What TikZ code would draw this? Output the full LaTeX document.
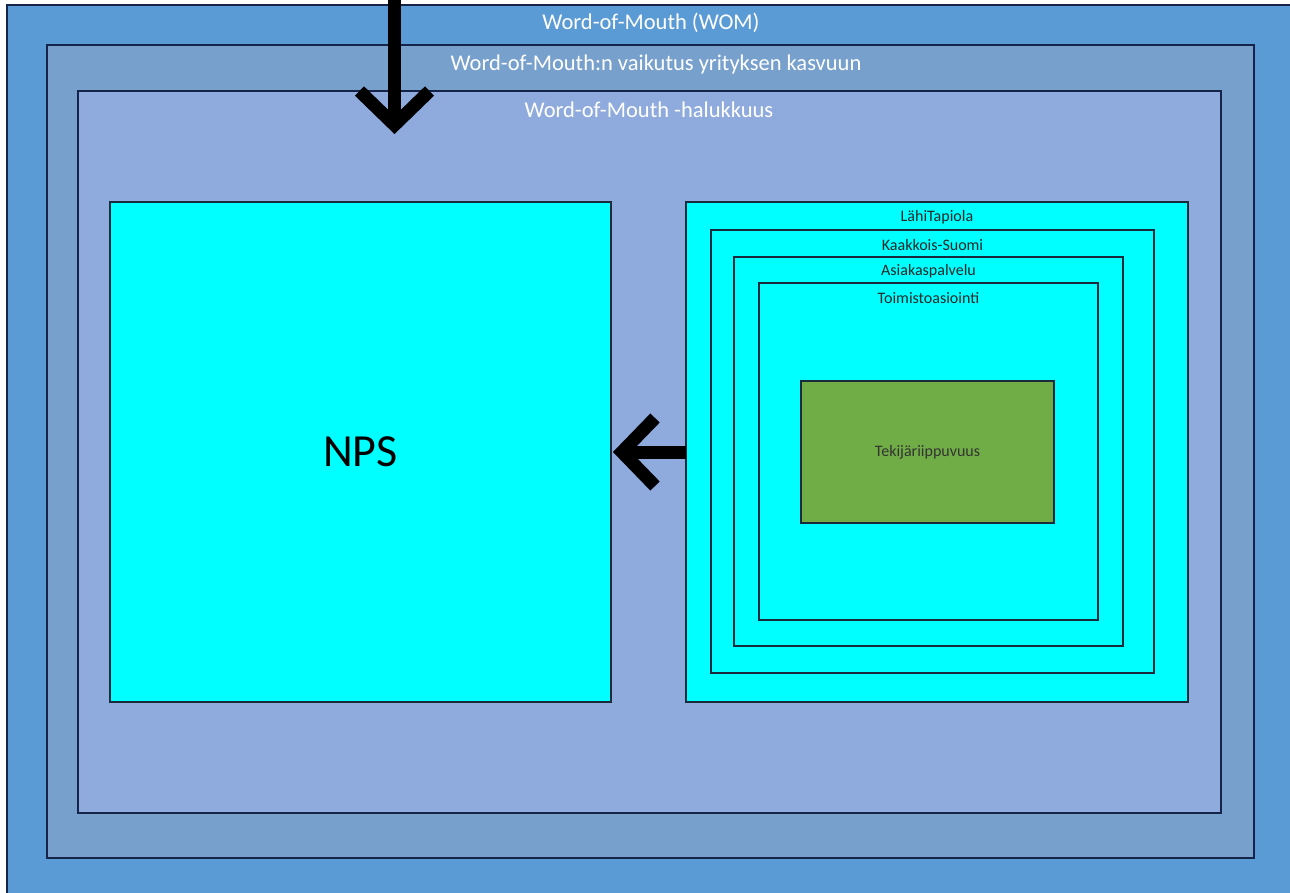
\documentclass[tikz,border=0pt]{standalone}
\usepackage{fontspec}
\setmainfont{Carlito}
\usetikzlibrary{calc}
\definecolor{womblue}{HTML}{5B9BD5}
\definecolor{growblue}{HTML}{77A0CC}
\definecolor{willblue}{HTML}{8FAADC}
\definecolor{aqua}{HTML}{00FFFF}
\definecolor{leafgreen}{HTML}{70AD47}
\definecolor{navyline}{HTML}{16244A}
\definecolor{inkline}{HTML}{1A2A3A}
\tikzset{
  frame/.style={draw=navyline, line width=1.3pt, inner sep=0pt, outer sep=0pt},
  level/.style={frame, draw=inkline, line width=1.1pt},
  headline/.style={text=white, font=\fontsize{22.5}{26}\selectfont, inner sep=0pt},
  levellabel/.style={text=black!85, font=\fontsize{16}{19}\selectfont, inner sep=0pt},
  bigarrow/.style={line width=13pt, black, miter limit=10, line join=miter},
}
\begin{document}
\begin{tikzpicture}[x=1pt,y=-1pt]
  \useasboundingbox (0,0) rectangle (1290,892);
  \fill[white] (0,0) rectangle (1290,892);
  \clip (0,0) rectangle (1290,892);

  % nested word-of-mouth frames
  \node[frame, fill=womblue, minimum width=1313pt, minimum height=915pt] (wom) at (663.5,462.5) {};
  \node[frame, fill=growblue, minimum width=1207pt, minimum height=813pt] (growth) at (650.5,451.5) {};
  \node[frame, fill=willblue, minimum width=1143pt, minimum height=722pt] (will) at (649.5,452) {};

  \node[headline] (womlabel) at (651,23) {Word-of-Mouth (WOM)};
  \node[headline] (growthlabel) at (656,64) {Word-of-Mouth:n vaikutus yrityksen kasvuun};
  \node[headline] (willlabel) at (649,110) {Word-of-Mouth -halukkuus};

  % NPS box
  \node[level, fill=aqua, minimum width=501pt, minimum height=500pt,
        font=\fontsize{46}{50}\selectfont] (nps) at (360.5,452) {NPS};

  % organisational levels
  \node[level, fill=aqua, minimum width=502pt, minimum height=500pt] (lahi) at (937,452) {};
  \node[level, fill=aqua, minimum width=443pt, minimum height=443pt] (kaak) at (932.5,451.5) {};
  \node[level, fill=aqua, minimum width=389pt, minimum height=389pt] (asia) at (928.5,451.5) {};
  \node[level, fill=aqua, minimum width=339pt, minimum height=337pt] (toim) at (928.5,451.5) {};
  \node[level, fill=leafgreen, minimum width=253pt, minimum height=142pt,
        levellabel, text=black!80] (teki) at (927.5,452) {Tekijäriippuvuus};

  \node[levellabel] (lahilabel) at (937,217) {LähiTapiola};
  \node[levellabel] (kaaklabel) at (932.5,245) {Kaakkois-Suomi};
  \node[levellabel] (asialabel) at (928.5,271) {Asiakaspalvelu};
  \node[levellabel] (toimlabel) at (928.5,298) {Toimistoasiointi};

  % arrows
  \coordinate (downstart) at (394.5,-5);
  \coordinate (downtip) at (394.5,125);
  \draw[bigarrow] (downstart) -- (downtip);
  \draw[bigarrow] ($(downtip)+(-35,-34)$) -- (downtip) -- ($(downtip)+(35,-34)$);

  \coordinate (lefttip) at (622,452);
  \draw[bigarrow] (lahi.west) -- (lefttip);
  \draw[bigarrow] ($(lefttip)+(33,-34)$) -- (lefttip) -- ($(lefttip)+(33,34)$);
\end{tikzpicture}
\end{document}
